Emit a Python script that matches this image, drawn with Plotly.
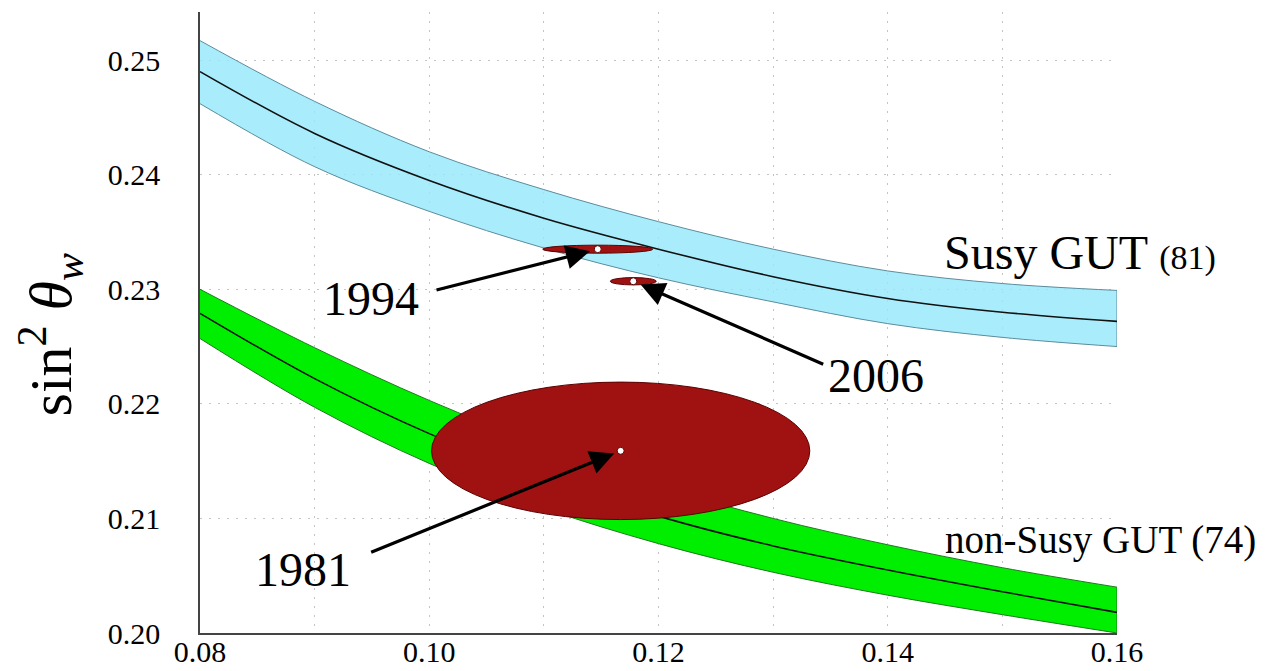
import plotly.graph_objects as go

# ---- data ----
alpha_s = [0.08, 0.09, 0.10, 0.11, 0.12, 0.13, 0.14, 0.15, 0.16]

susy_mid = [0.2490, 0.2436, 0.2395, 0.2362, 0.2335, 0.2311, 0.2292, 0.2280, 0.2272]
susy_hi  = [0.2517, 0.2464, 0.2420, 0.2387, 0.2359, 0.2335, 0.2316, 0.2305, 0.2299]
susy_lo  = [0.2462, 0.2407, 0.2368, 0.2336, 0.2310, 0.2289, 0.2270, 0.2258, 0.2250]

nonsusy_mid = [0.2279, 0.2222, 0.2174, 0.2135, 0.2102, 0.2076, 0.2055, 0.2036, 0.2018]
nonsusy_hi  = [0.2300, 0.2249, 0.2203, 0.2163, 0.2128, 0.2100, 0.2077, 0.2057, 0.2040]
nonsusy_lo  = [0.2257, 0.2197, 0.2148, 0.2109, 0.2078, 0.2053, 0.2033, 0.2016, 0.2000]

years      = ["1981", "1994", "2006"]
meas_alpha = [0.1167, 0.1147, 0.1178]
meas_sin2  = [0.2159, 0.2335, 0.2307]
err_alpha  = [0.0165, 0.0048, 0.0020]
err_sin2   = [0.0060, 0.00035, 0.00032]

x_ticks = [0.08, 0.10, 0.12, 0.14, 0.16]
y_ticks = [0.20, 0.21, 0.22, 0.23, 0.24, 0.25]

SERIF = "Liberation Serif, Times New Roman, serif"

fig = go.Figure()

def band(lo, hi, mid, fill, edge):
    fig.add_trace(go.Scatter(x=alpha_s, y=lo, mode="lines",
                             line=dict(color=edge, width=1, shape="spline"),
                             hoverinfo="skip"))
    fig.add_trace(go.Scatter(x=alpha_s, y=hi, mode="lines", fill="tonexty",
                             fillcolor=fill,
                             line=dict(color=edge, width=1, shape="spline"),
                             hoverinfo="skip"))
    fig.add_trace(go.Scatter(x=[alpha_s[-1], alpha_s[-1]], y=[hi[-1], lo[-1]],
                             mode="lines", line=dict(color=edge, width=1),
                             hoverinfo="skip"))
    fig.add_trace(go.Scatter(x=alpha_s, y=mid, mode="lines",
                             line=dict(color="#111111", width=1.6, shape="spline"),
                             hoverinfo="skip"))

band(susy_lo, susy_hi, susy_mid, "rgba(150,233,252,0.82)", "#5c8c9c")
band(nonsusy_lo, nonsusy_hi, nonsusy_mid, "#00ee00", "#1f7a1f")

# ellipses + centre dots
shapes = []
for xa, ys, ex, ey in zip(meas_alpha, meas_sin2, err_alpha, err_sin2):
    shapes.append(dict(type="circle", xref="x", yref="y",
                       x0=xa - ex, x1=xa + ex, y0=ys - ey, y1=ys + ey,
                       fillcolor="#a01212", line=dict(color="#5a0000", width=1),
                       layer="above"))
for xa, ys in zip(meas_alpha, meas_sin2):
    shapes.append(dict(type="circle", xref="x", yref="y",
                       xsizemode="pixel", ysizemode="pixel",
                       xanchor=xa, yanchor=ys, x0=-3.5, x1=3.5, y0=-3.5, y1=3.5,
                       fillcolor="white", line=dict(color="#5a0000", width=1),
                       layer="above"))

# arrow tails and label positions (layout)
arrow_tail = {"1981": (0.0948, 0.2070), "1994": (0.1005, 0.2299), "2006": (0.1345, 0.2234)}
label_pos = {"1981": (0.0890, 0.2055), "1994": (0.0949, 0.2292), "2006": (0.1390, 0.2225)}
standoff = {"1981": 7, "1994": 8, "2006": 8}

annotations = []
for yr, xa, ys in zip(years, meas_alpha, meas_sin2):
    tx, ty = arrow_tail[yr]
    annotations.append(dict(x=xa, y=ys, ax=tx, ay=ty, xref="x", yref="y",
                            axref="x", ayref="y", text="", showarrow=True,
                            arrowhead=2, arrowsize=1.5, arrowwidth=3.2,
                            arrowcolor="black", standoff=standoff[yr]))
    lx, ly = label_pos[yr]
    annotations.append(dict(x=lx, y=ly, xref="x", yref="y", text=yr,
                            showarrow=False, xanchor="center", yanchor="middle",
                            font=dict(family=SERIF, size=48, color="black")))

annotations.append(dict(x=0.1447, y=0.2332, xref="x", yref="y",
                        text="Susy GUT <span style='font-size:34px'>(81)</span>",
                        showarrow=False, xanchor="left", yanchor="middle",
                        font=dict(family=SERIF, size=48, color="black")))
annotations.append(dict(x=0.1448, y=0.2081, xref="x", yref="y",
                        text="non-Susy GUT (74)",
                        showarrow=False, xanchor="left", yanchor="middle",
                        font=dict(family=SERIF, size=39, color="black")))
annotations.append(dict(x=-0.163, y=0.48, xref="paper", yref="paper",
                        text="sin<sup>2</sup> <i>θ</i><sub><i>w</i></sub>",
                        textangle=-90, showarrow=False,
                        xanchor="center", yanchor="middle",
                        font=dict(family=SERIF, size=60, color="black")))

GRIDC = "#c4c4c4"
DASH = "2px,7px"

# page body adds an 8px offset, so margins are shifted to compensate
fig.update_layout(
    width=1268, height=671,
    margin=dict(l=192, r=159, t=4, b=46, autoexpand=False),
    paper_bgcolor="white", plot_bgcolor="white",
    showlegend=False,
    shapes=shapes, annotations=annotations,
    xaxis=dict(range=[0.08, 0.16], tickvals=x_ticks, tickformat=".2f",
               showline=True, linecolor="#444444", linewidth=1.5,
               zeroline=False, ticks="", ticklabelstandoff=-9,
               tickfont=dict(family=SERIF, size=30, color="black"),
               showgrid=True, gridcolor=GRIDC, griddash=DASH, gridwidth=1,
               minor=dict(dtick=0.01, tick0=0.08, showgrid=True,
                          gridcolor=GRIDC, griddash=DASH, gridwidth=1)),
    yaxis=dict(range=[0.20, 0.2542], tickvals=y_ticks, tickformat=".2f",
               showline=True, linecolor="#444444", linewidth=1.5,
               zeroline=False, ticks="", ticklabelstandoff=32,
               tickfont=dict(family=SERIF, size=30, color="black"),
               showgrid=True, gridcolor=GRIDC, griddash=DASH, gridwidth=1),
)

fig.write_html("out.html")
